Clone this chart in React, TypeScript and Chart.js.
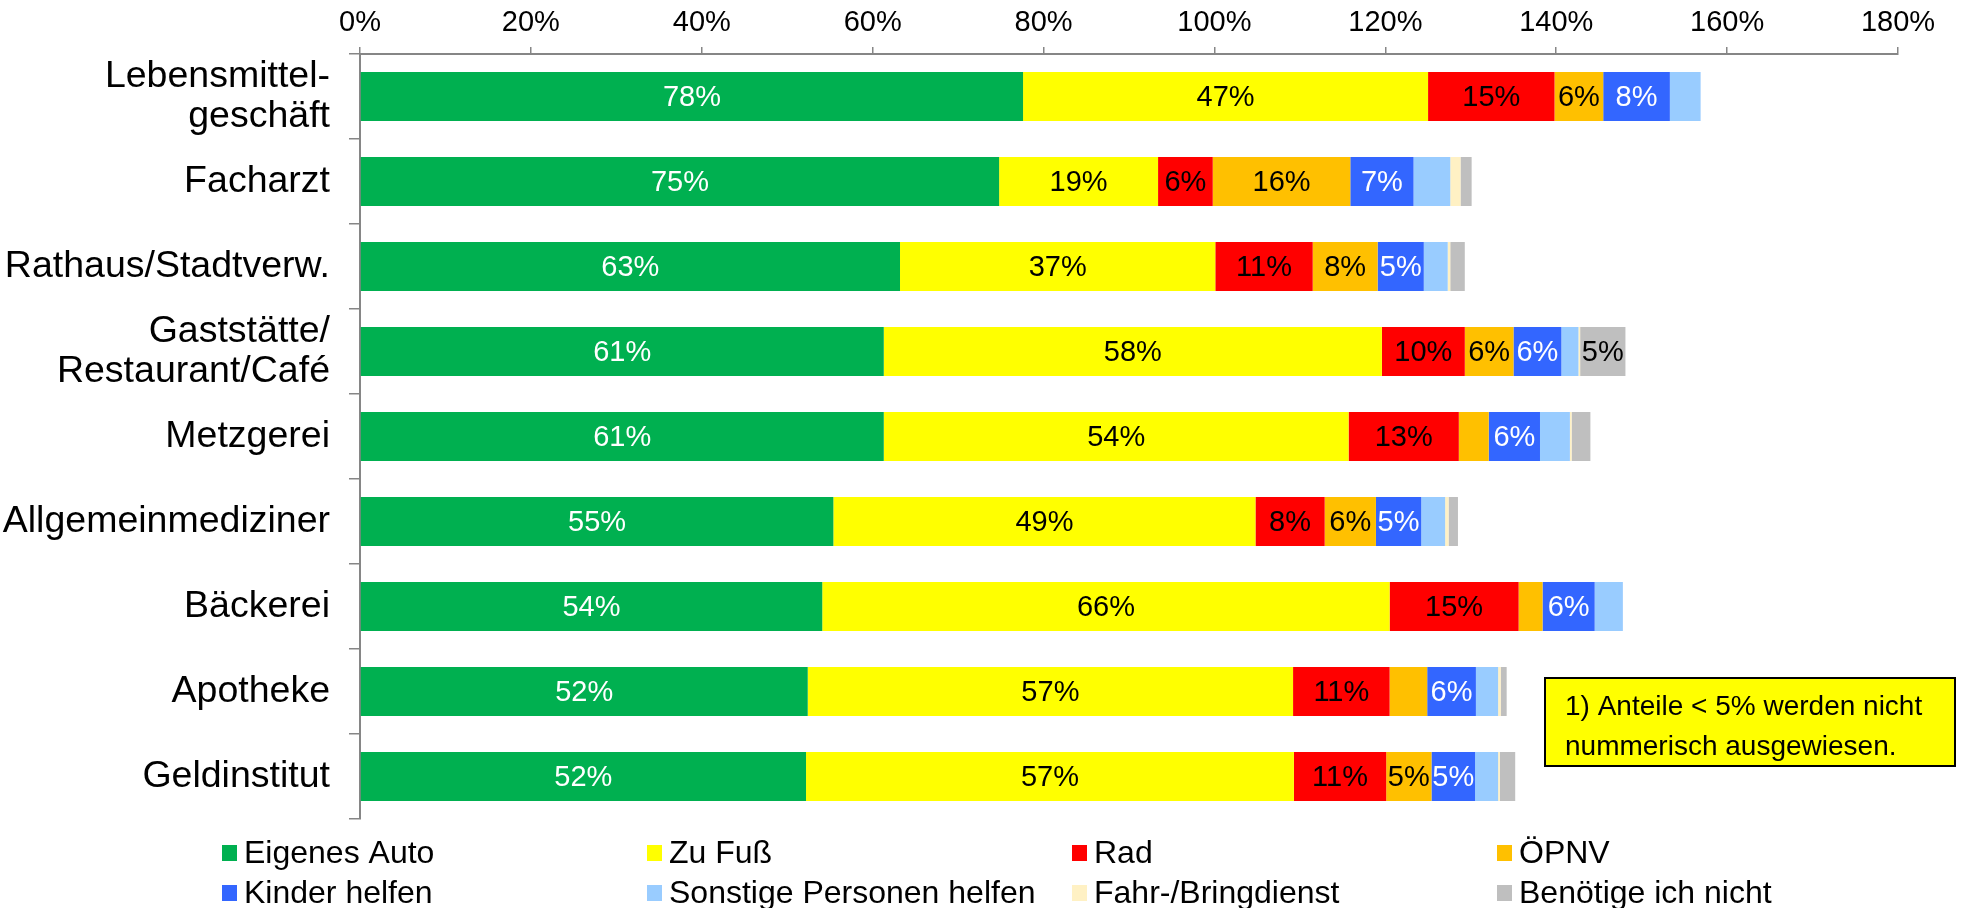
import React, { useEffect, useRef } from "react";
import { Chart, registerables } from "chart.js";

Chart.register(...registerables);

const FONT = '"Liberation Sans", Arial, sans-serif';

const categories: (string | string[])[] = [
  ["Lebensmittel-", "geschäft"],
  "Facharzt",
  "Rathaus/Stadtverw.",
  ["Gaststätte/", "Restaurant/Café"],
  "Metzgerei",
  "Allgemeinmediziner",
  "Bäckerei",
  "Apotheke",
  "Geldinstitut",
];

const seriesNames = [
  "Eigenes Auto",
  "Zu Fuß",
  "Rad",
  "ÖPNV",
  "Kinder helfen",
  "Sonstige Personen helfen",
  "Fahr-/Bringdienst",
  "Benötige ich nicht",
];

const eigenesAuto = [77.6, 74.8, 63.2, 61.3, 61.3, 55.4, 54.1, 52.4, 52.2];
const zuFuss = [47.4, 18.6, 36.9, 58.3, 54.4, 49.4, 66.4, 56.8, 57.1];
const rad = [14.8, 6.4, 11.4, 9.7, 12.9, 8.1, 15.1, 11.3, 10.8];
const oepnv = [5.7, 16.1, 7.6, 5.7, 3.5, 6.0, 2.8, 4.4, 5.3];
const kinderHelfen = [7.8, 7.4, 5.4, 5.6, 6.0, 5.3, 6.1, 5.7, 5.1];
const sonstigePersonen = [3.6, 4.3, 2.8, 2.0, 3.5, 2.8, 3.3, 2.6, 2.7];
const fahrBringdienst = [0, 1.2, 0.3, 0.2, 0.2, 0.4, 0, 0.3, 0.2];
const benoetigeNicht = [0, 1.3, 1.7, 5.3, 2.2, 1.1, 0, 0.7, 1.8];

const xTickValues = [0, 20, 40, 60, 80, 100, 120, 140, 160, 180];
const xTickLabels = ["0%", "20%", "40%", "60%", "80%", "100%", "120%", "140%", "160%", "180%"];

const noteLines = ["1) Anteile < 5% werden nicht", "nummerisch ausgewiesen."];

const seriesData = [
  eigenesAuto,
  zuFuss,
  rad,
  oepnv,
  kinderHelfen,
  sonstigePersonen,
  fahrBringdienst,
  benoetigeNicht,
];

const colors = [
  "#00B050",
  "#FFFF00",
  "#FF0000",
  "#FFC000",
  "#3366FF",
  "#99CCFF",
  "#FFF1C4",
  "#BFBFBF",
];

const labelColors = ["#FFFFFF", "#000000", "#000000", "#000000", "#FFFFFF", "#000000", "#000000", "#000000"];

const valueLabelPlugin = {
  id: "valueLabels",
  afterDatasetsDraw(chart: any) {
    const ctx = chart.ctx;
    ctx.save();
    ctx.font = `29px ${FONT}`;
    ctx.textAlign = "center";
    ctx.textBaseline = "middle";
    chart.data.datasets.forEach((ds: any, i: number) => {
      const meta = chart.getDatasetMeta(i);
      meta.data.forEach((el: any, j: number) => {
        const v = ds.data[j];
        if (Math.round(v) < 5) return;
        const cx = (el.x + el.base) / 2;
        ctx.fillStyle = labelColors[i];
        ctx.fillText(Math.round(v) + "%", cx, el.y + 1);
      });
    });
    ctx.restore();
  },
};

const legendPlugin = {
  id: "gridLegend",
  afterDraw(chart: any) {
    const ctx = chart.ctx;
    ctx.save();
    ctx.font = `32px ${FONT}`;
    ctx.textAlign = "left";
    ctx.textBaseline = "middle";
    chart.data.datasets.forEach((ds: any, i: number) => {
      const col = i % 4;
      const row = Math.floor(i / 4);
      const x = 222 + col * 425;
      const y = 853 + row * 40;
      ctx.fillStyle = ds.backgroundColor;
      ctx.fillRect(x, y - 8, 15, 16);
      ctx.fillStyle = "#000";
      ctx.fillText(ds.label, x + 22, y + 1);
    });
    ctx.restore();
  },
};

const notePlugin = {
  id: "noteBox",
  afterDraw(chart: any) {
    const ctx = chart.ctx;
    ctx.save();
    ctx.fillStyle = "#FFFF00";
    ctx.fillRect(1545, 678, 410, 88);
    ctx.strokeStyle = "#000";
    ctx.lineWidth = 2;
    ctx.strokeRect(1545, 678, 410, 88);
    ctx.fillStyle = "#000";
    ctx.font = `28px ${FONT}`;
    ctx.textAlign = "left";
    ctx.textBaseline = "middle";
    noteLines.forEach((line, i) => {
      ctx.fillText(line, 1565, 707 + i * 40);
    });
    ctx.restore();
  },
};

export default function App() {
  const ref = useRef<HTMLCanvasElement>(null);

  useEffect(() => {
    const canvas = ref.current;
    if (!canvas) return;
    const datasets = seriesNames.map((name, i) => ({
      label: name,
      data: seriesData[i],
      backgroundColor: colors[i],
      borderWidth: 0,
      barPercentage: 0.576,
      categoryPercentage: 1,
    }));
    const chart = new Chart(canvas, {
      type: "bar",
      data: { labels: categories as any, datasets },
      options: {
        indexAxis: "y",
        responsive: false,
        maintainAspectRatio: false,
        animation: false,
        layout: { padding: { left: 0, right: 78, top: 0, bottom: 89 } },
        plugins: {
          legend: { display: false },
          tooltip: { enabled: false },
        },
        scales: {
          x: {
            position: "top",
            stacked: true,
            min: 0,
            max: 180,
            ticks: {
              stepSize: 20,
              color: "#000",
              font: { family: FONT, size: 29 },
              padding: 7,
              callback: (v: any) => {
                const idx = xTickValues.indexOf(Number(v));
                return idx >= 0 ? xTickLabels[idx] : "";
              },
            },
            grid: {
              drawOnChartArea: false,
              color: "#868686",
              tickColor: "#868686",
              tickLength: 7,
              lineWidth: 1.5,
            },
            border: { color: "#868686", width: 2 },
            afterFit: (s: any) => {
              s.height = 54;
            },
          },
          y: {
            stacked: true,
            ticks: {
              color: "#000",
              font: { family: FONT, size: 37.5, lineHeight: 1.07 },
              padding: 19,
            },
            grid: {
              drawOnChartArea: false,
              color: "#868686",
              tickColor: "#868686",
              tickLength: 11,
              lineWidth: 1.5,
              offset: true,
            },
            border: { color: "#868686", width: 2 },
            afterFit: (s: any) => {
              s.width = 360;
            },
          },
        },
      } as any,
      plugins: [valueLabelPlugin, legendPlugin, notePlugin],
    });
    return () => chart.destroy();
  }, []);

  return (
    <div style={{ position: "fixed", left: 0, top: 0, width: 1976, height: 908, background: "#fff" }}>
      <canvas ref={ref} width={1976} height={908} style={{ display: "block", width: 1976, height: 908 }} />
    </div>
  );
}
